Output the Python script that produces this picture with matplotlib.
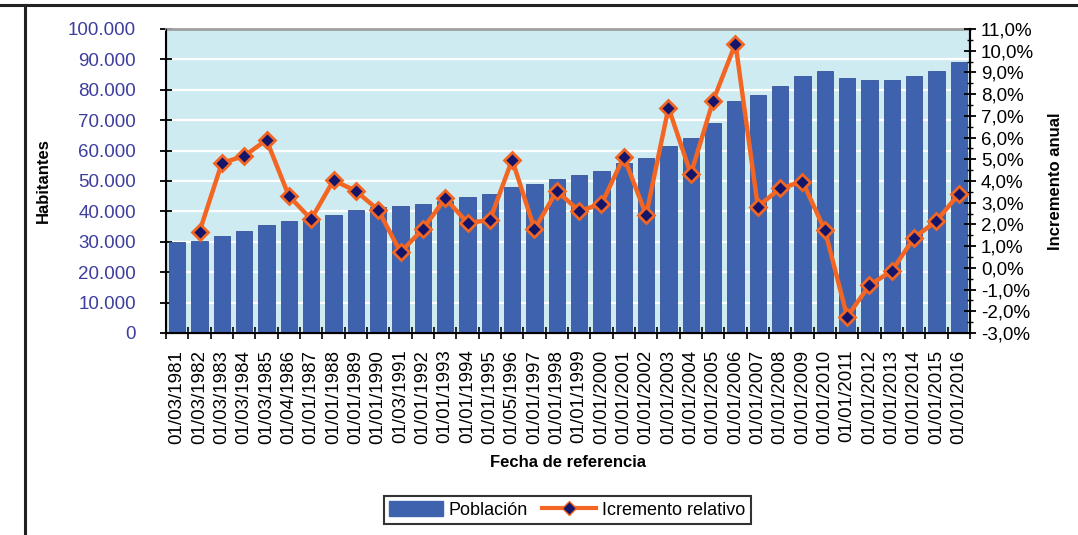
import matplotlib.pyplot as plt
import numpy as np
from matplotlib.ticker import FuncFormatter, MultipleLocator
from matplotlib.lines import Line2D
from matplotlib.patches import Patch

plt.rcParams['font.family'] = ['Liberation Sans', 'DejaVu Sans']

# Fechas de referencia
fechas = ["01/03/1981", "01/03/1982", "01/03/1983", "01/03/1984", "01/03/1985",
          "01/04/1986", "01/01/1987", "01/01/1988", "01/01/1989", "01/01/1990",
          "01/03/1991", "01/01/1992", "01/01/1993", "01/01/1994", "01/01/1995",
          "01/05/1996", "01/01/1997", "01/01/1998", "01/01/1999", "01/01/2000",
          "01/01/2001", "01/01/2002", "01/01/2003", "01/01/2004", "01/01/2005",
          "01/01/2006", "01/01/2007", "01/01/2008", "01/01/2009", "01/01/2010",
          "01/01/2011", "01/01/2012", "01/01/2013", "01/01/2014", "01/01/2015",
          "01/01/2016"]

# Población (habitantes)
poblacion = [30000, 30400, 32000, 33500, 35500, 36700, 37700, 38900, 40300, 41500,
             41800, 42400, 43500, 44600, 45700, 47900, 48900, 50600, 51900, 53400,
             55800, 57500, 61600, 64200, 69000, 76200, 78400, 81300, 84400, 86100,
             84000, 83300, 83200, 84400, 86200, 89100]

# Incremento relativo anual (%), sin dato para 1981
incremento = [np.nan, 1.67, 4.83, 5.15, 5.89, 3.31, 2.24, 4.03, 3.54, 2.67,
              0.72, 1.78, 3.20, 2.08, 2.19, 4.98, 1.78, 3.54, 2.62, 2.94,
              5.11, 2.44, 7.38, 4.32, 7.70, 10.33, 2.82, 3.66, 3.97, 1.74,
              -2.25, -0.80, -0.14, 1.39, 2.16, 3.40]

azul = "#3F62AF"
naranja = "#F26522"
x = np.arange(len(fechas))

fig = plt.figure(figsize=(10.78, 5.35), dpi=100)
ax = fig.add_axes([0.154, 0.3776, 0.7458, 0.5682])
ax.set_facecolor("#CFEBF2")
ax.bar(x, poblacion, width=0.72, color=azul, edgecolor="#35539A", linewidth=0.6, zorder=2)
ax.set_xlim(-0.5, len(fechas) - 0.5)
ax.set_ylim(0, 100000)
ax.yaxis.set_major_locator(MultipleLocator(10000))
ax.yaxis.set_major_formatter(FuncFormatter(lambda v, p: f"{int(v):,}".replace(",", ".")))
ax.grid(axis="y", color="white", linewidth=1.6, zorder=1)
ax.set_axisbelow(True)
ax.tick_params(axis="y", direction="inout", length=9, width=1.3, labelsize=13.5,
               labelcolor="#3D3D9E", pad=17)
ax.set_xticks(x)
ax.set_xticklabels(fechas, rotation=90, fontsize=13.5)
ax.set_xticks(np.arange(-0.5, len(fechas), 1), minor=True)
ax.tick_params(axis="x", which="major", length=0, pad=12)
ax.tick_params(axis="x", which="minor", direction="inout", length=8, width=1.2)
ax.spines["top"].set_color("#A0A0A0")
ax.spines["top"].set_linewidth(2)
for s in ["left", "bottom", "right"]:
    ax.spines[s].set_linewidth(1.5)
ax.set_ylabel("Habitantes", fontsize=12, fontweight="bold", labelpad=12)
ax.set_xlabel("Fecha de referencia", fontsize=12, fontweight="bold", labelpad=8)

ax2 = ax.twinx()
ax2.plot(x, incremento, color=naranja, linewidth=3.2, marker="D", markersize=8,
         markerfacecolor="#15166A", markeredgecolor=naranja, markeredgewidth=2, zorder=3)
ax2.set_ylim(-3, 11)
ax2.yaxis.set_major_locator(MultipleLocator(1))
ax2.yaxis.set_minor_locator(MultipleLocator(0.5))
ax2.yaxis.set_major_formatter(FuncFormatter(lambda v, p: f"{v:.1f}%".replace(".", ",")))
ax2.tick_params(axis="y", which="major", direction="inout", length=8, width=1.3,
                labelsize=13.5, pad=4)
ax2.tick_params(axis="y", which="minor", direction="inout", length=4, width=1)
ax2.spines["top"].set_visible(False)
ax2.spines["right"].set_linewidth(1.5)
ax2.set_ylabel("Incremento anual", fontsize=12, fontweight="bold", rotation=90, labelpad=10)

handles = [Patch(facecolor=azul, edgecolor=azul),
           Line2D([0], [0], color=naranja, linewidth=3, marker="D", markersize=7,
                  markerfacecolor="#15166A", markeredgecolor=naranja)]
leg = fig.legend(handles, ["Población", "Icremento relativo"], loc="center",
                 bbox_to_anchor=(0.526, 0.047), ncol=2, fontsize=13, frameon=True,
                 fancybox=False, edgecolor="black", handlelength=3.0, handleheight=0.9,
                 columnspacing=0.8, handletextpad=0.3, borderpad=0.3)
leg.get_frame().set_linewidth(1.5)

# Marco exterior
fig.add_artist(Line2D([0, 1], [0.99, 0.99], color="#222222", linewidth=2.2))
fig.add_artist(Line2D([0.0235, 0.0235], [0, 0.99], color="#222222", linewidth=2.2))

fig.savefig("out.png", dpi=100)
